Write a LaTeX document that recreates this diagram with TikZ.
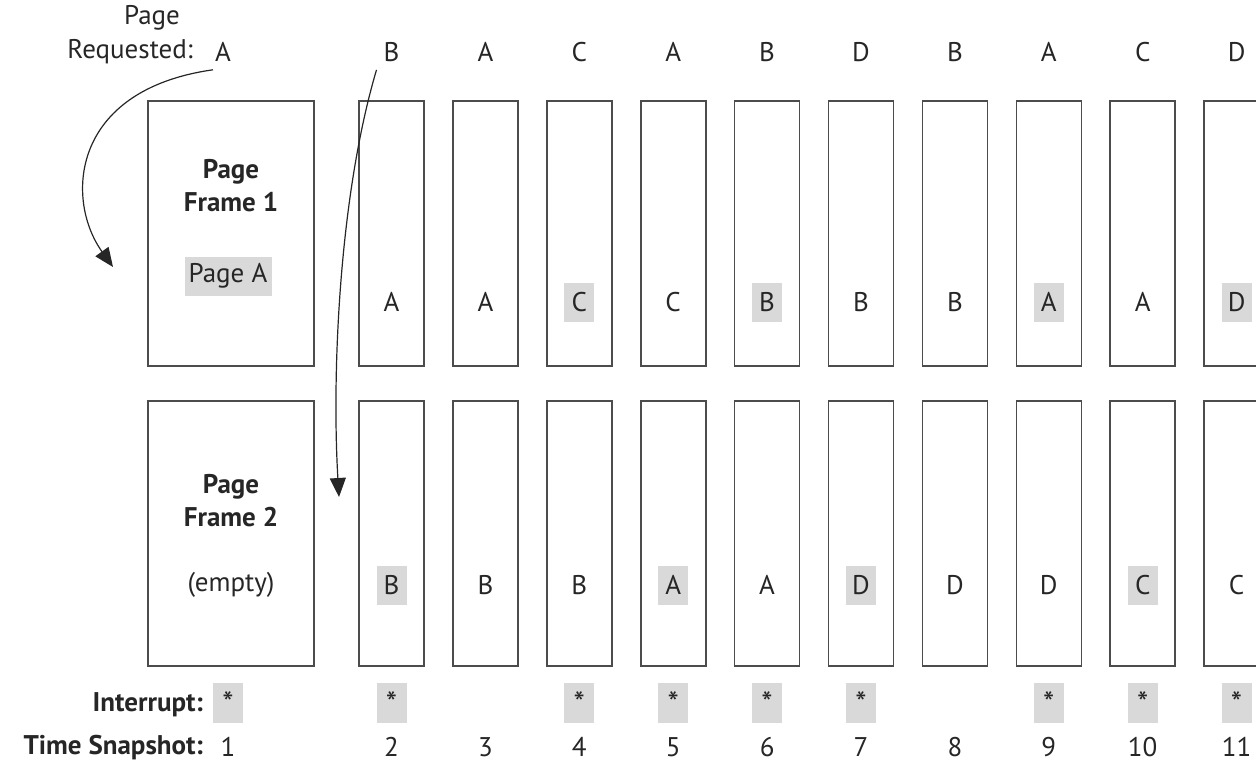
\documentclass[tikz,border=0pt]{standalone}
\usepackage{fontspec}
\setmainfont{PT Sans}
\usetikzlibrary{arrows.meta}
\begin{document}
\begin{tikzpicture}[x=1pt,y=-1pt, font=\fontsize{27}{33}\selectfont, text=black!85,
  frame/.style={draw=black!70, line width=1.6pt, inner sep=0pt},
  hl/.style={fill=black!15, inner sep=0pt, minimum width=30pt, minimum height=39pt},
  plain/.style={inner sep=0pt, minimum width=30pt, minimum height=39pt},
  lbl/.style={inner sep=2pt},
  num/.style={inner sep=0pt},
  bold/.style={font=\fontsize{27}{33}\selectfont\bfseries},
  star/.style={hl, minimum height=40pt, font=\fontsize{32}{32}\selectfont},
  conn/.style={line width=1.2pt, draw=black!85, -{Triangle[length=19pt,width=16pt]}}]
\useasboundingbox (0,0) rectangle (1256,763);
\clip (0,0) rectangle (1256,763);
% page requested header
\node[lbl] (pagehdr) at (152,18) {Page};
\node[lbl, anchor=east] (reqhdr) at (195,52) {Requested:};
\node[lbl] (req1) at (223,52) {A};
% big frames
\node[frame, minimum width=166pt, minimum height=265pt] (pf1) at (231,233.5) {};
\node[frame, minimum width=166pt, minimum height=265pt] (pf2) at (231,533.5) {};
\node[align=center, bold] (pf1t) at (231,186) {Page\\Frame 1};
\node[align=center, bold] (pf2t) at (231,501) {Page\\Frame 2};
\node[hl, minimum width=87pt] (pf1c) at (228,276) {Page A};
\node[plain] (pf2c) at (231,585) {(empty)};
% columns
\foreach \i/\r/\ta/\tb/\ba/\bb/\st in {
  2/B/A/plain/B/hl/1, 3/A/A/plain/B/plain/0, 4/C/C/hl/B/plain/1,
  5/A/C/plain/A/hl/1, 6/B/B/hl/A/plain/1, 7/D/B/plain/D/hl/1,
  8/B/B/plain/D/plain/0, 9/A/A/hl/D/plain/1, 10/C/A/plain/C/hl/1,
  11/D/D/hl/C/plain/1}{
  \pgfmathsetmacro\cx{391.5+93.9*(\i-2)}
  \node[lbl] (req\i) at (\cx,52) {\r};
  \node[frame, minimum width=65pt, minimum height=265pt] (t\i) at (\cx,233.5) {};
  \node[frame, minimum width=65pt, minimum height=265pt] (b\i) at (\cx,533.5) {};
  \node[\tb] (tl\i) at (\cx,302) {\ta};
  \node[\bb] (bl\i) at (\cx,585) {\ba};
  \ifnum\st=1 \node[star] (st\i) at (\cx,703) {\raisebox{-5pt}{*}};\fi
  \node[num] (ts\i) at (\cx,747) {\i};
}
% column 1 bottom
\node[star] (st1) at (228,703) {\raisebox{-5pt}{*}};
\node[num] (ts1) at (228,747) {1};
\node[lbl, anchor=east, bold] (intl) at (205,705) {Interrupt:};
\node[num, anchor=east, bold] (tsl) at (203,748) {Time Snapshot:};
% arrows
\coordinate (a1end) at (113,267);
\coordinate (a2end) at (339,497);
\draw[conn] ([shift={(-10,6)}]req1.south) .. controls (70,90) and (65,200) .. (a1end);
\draw[conn] ([shift={(-15,6)}]req2.south) .. controls (338,200) and (332,380) .. (a2end);
\end{tikzpicture}
\end{document}
